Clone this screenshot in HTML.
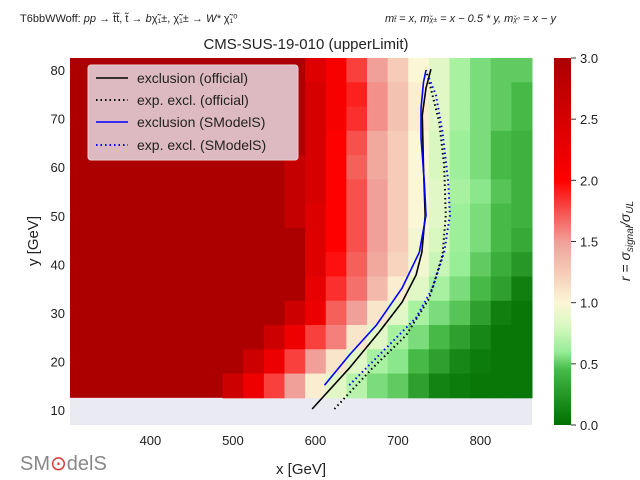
<!DOCTYPE html>
<html><head><meta charset="utf-8"><style>
body{margin:0;background:#fff;}
svg{display:block;font-family:"Liberation Sans","DejaVu Sans",sans-serif;}
</style></head><body>
<svg id="chart" width="640" height="480" viewBox="0 0 640 480">
<text x="20" y="22" font-size="11" fill="#222">T6bbWWoff: <tspan font-style="italic">pp</tspan> → t̃t̃, t̃ → <tspan font-style="italic">b</tspan>χ̃₁±, χ̃₁± → <tspan font-style="italic">W*</tspan> χ̃₁⁰</text>
<text x="385" y="22" font-size="11" fill="#222" font-style="italic">m<tspan font-size="7">t̃</tspan> = x, m<tspan font-size="7">χ̃±</tspan> = x − 0.5 * y, m<tspan font-size="7">χ̃⁰</tspan> = x − y</text>
<text x="306" y="49" font-size="15" fill="#222" text-anchor="middle">CMS-SUS-19-010 (upperLimit)</text>
<rect x="70" y="58" width="462" height="367" fill="#eaeaf2"/>
<g id="cells"></g>
<g id="lines"></g>
<g id="axes"></g>
<g>
<rect x="88" y="65" width="210" height="95" rx="3" fill="#ddb9c1" stroke="#e8d0d5"/>
<line x1="96" y1="78" x2="128" y2="78" stroke="#000" stroke-width="1.6"/>
<text x="137" y="83" font-size="14" fill="#222">exclusion (official)</text>
<line x1="96" y1="100" x2="128" y2="100" stroke="#000" stroke-width="2" stroke-dasharray="1.5,3"/>
<text x="137" y="105" font-size="14" fill="#222">exp. excl. (official)</text>
<line x1="96" y1="122" x2="128" y2="122" stroke="#0000ff" stroke-width="1.6"/>
<text x="137" y="127" font-size="14" fill="#222">exclusion (SModelS)</text>
<line x1="96" y1="145" x2="128" y2="145" stroke="#0000ff" stroke-width="2" stroke-dasharray="1.5,3"/>
<text x="137" y="150" font-size="14" fill="#222">exp. excl. (SModelS)</text>
</g>
<defs><linearGradient id="cbg" x1="0" y1="1" x2="0" y2="0">
<stop offset="0" stop-color="#006f00"/><stop offset="0.15" stop-color="#46b946"/><stop offset="0.2" stop-color="#96ee96"/><stop offset="0.27" stop-color="#d8f8c0"/><stop offset="0.333" stop-color="#fbf6d6"/><stop offset="0.5" stop-color="#f0a098"/><stop offset="0.667" stop-color="#ff0000"/><stop offset="1" stop-color="#ac0000"/>
</linearGradient></defs>
<rect x="554" y="58" width="17" height="367" fill="url(#cbg)"/>
<g id="cbticks"></g>
<text transform="translate(630,241) rotate(-90)" font-size="14" fill="#222" text-anchor="middle" font-style="italic">r = σ<tspan font-size="10" dy="3">signal</tspan><tspan dy="-3">/σ</tspan><tspan font-size="10" dy="3">UL</tspan></text>
<text x="301" y="474" font-size="15" fill="#222" text-anchor="middle">x [GeV]</text>
<text transform="translate(38,241) rotate(-90)" font-size="15" fill="#222" text-anchor="middle">y [GeV]</text>
<g>
<text x="20" y="470" font-size="20" fill="#888">SM<tspan fill="#d33">⊙</tspan>delS</text>
</g>
</svg>
<script>
const xCenters=[500,525,550,575,600,625,650,675,700,725,750,775,800,825,850];
const yCenters=[80,75,70,65,60,55,50,45,40,35,30,25,20,15];
const rValues=[
[3,3,3,3,2.4,2.1,1.8,1.5,1.25,1.0,0.85,0.65,0.55,0.5,0.5],
[3,3,3,3,2.5,2.1,1.9,1.55,1.3,1.05,0.85,0.65,0.55,0.5,0.45],
[3,3,3,3,2.5,2.1,1.85,1.55,1.3,1.05,0.85,0.65,0.55,0.5,0.45],
[3,3,3,3,2.5,2.0,1.75,1.45,1.25,1.0,0.8,0.62,0.55,0.45,0.4],
[3,3,3,2.7,2.5,2.0,1.7,1.45,1.25,1.0,0.8,0.62,0.55,0.45,0.4],
[3,3,3,2.7,2.5,2.0,1.75,1.5,1.25,1.0,0.85,0.65,0.58,0.48,0.4],
[3,3,3,2.7,2.4,2.0,1.75,1.5,1.25,1.0,0.85,0.62,0.55,0.45,0.4],
[3,3,3,3,2.4,2.0,1.75,1.5,1.25,0.95,0.8,0.62,0.55,0.45,0.35],
[3,3,3,3,2.4,1.95,1.7,1.45,1.2,0.95,0.75,0.6,0.5,0.38,0.25],
[3,3,3,3,2.3,1.85,1.65,1.35,1.05,0.85,0.65,0.55,0.45,0.3,0.1],
[3,3,3,2.6,2.2,1.7,1.5,1.1,0.85,0.65,0.55,0.48,0.3,0.1,0.05],
[3,3,2.6,2.2,1.8,1.6,1.1,0.85,0.65,0.55,0.45,0.3,0.15,0.05,0.05],
[3,2.6,2.2,1.8,1.5,1.1,0.85,0.65,0.58,0.45,0.3,0.15,0.08,0.05,0.05],
[2.6,2.2,1.8,1.5,1.05,0.85,0.7,0.55,0.5,0.3,0.12,0.08,0.05,0.05,0.05]];
const officialX=[596,641,677,705,722,729,733,731,729.5,734,740];
const officialY=[10.2,18.6,26,32.2,37.8,42.5,50,59.8,70.7,76.3,80.2];
const officialExpX=[623,669,710,738,754,758,756,750,738,734];
const officialExpY=[10.2,18.6,25.4,33,41.9,50.1,60.4,69.3,77.5,80];
const smodelsX=[611,641,674,705,726,734,732,728,728,731,734];
const smodelsY=[15.1,21.3,27.5,35.1,42.5,50.1,56.9,66,72.2,77.5,80];
const smodelsExpX=[641,686,722,742,756,763,761,754,746,736];
const smodelsExpY=[15.1,22.8,29,35.1,42.5,50.1,56.9,67.2,74.9,79];
const xTicks=[400,500,600,700,800];
const yTicks=[10,20,30,40,50,60,70,80];
const cTicks=[0,0.5,1,1.5,2,2.5,3];
const cTickLabels=["0.0","0.5","1.0","1.5","2.0","2.5","3.0"];

const X0=302.5,X1=862.5,Y0=6.9,Y1=82.5,PL=70,PR=532,PT=58,PB=425;
const sx=v=>PL+(v-X0)/(X1-X0)*(PR-PL);
const sy=v=>PB-(v-Y0)/(Y1-Y0)*(PB-PT);
const cy=v=>425-v/3*367;
const stops=[[0,[0,111,0]],[0.45,[70,185,70]],[0.6,[150,238,150]],[0.8,[216,248,192]],[1,[251,246,214]],[1.5,[240,160,152]],[2,[255,0,0]],[3,[172,0,0]]];
function col(r){r=Math.max(0,Math.min(3,r));for(let i=1;i<stops.length;i++){if(r<=stops[i][0]){const a=stops[i-1],b=stops[i],t=(r-a[0])/(b[0]-a[0]);return 'rgb('+a[1].map((c,k)=>Math.round(c+(b[1][k]-c)*t)).join(',')+')';}}return 'rgb(172,0,0)';}
const NS='http://www.w3.org/2000/svg';
function mk(tag,attrs,parent){const e=document.createElementNS(NS,tag);for(const k in attrs)e.setAttribute(k,attrs[k]);parent.appendChild(e);return e;}
const cells=document.getElementById('cells');
const lf=mk('rect',{x:PL,y:sy(82.5),width:sx(487.5)-PL+2,height:sy(12.5)-sy(82.5),fill:col(3)},cells);


yCenters.forEach((yv,i)=>xCenters.forEach((xv,j)=>{
 const x0=sx(xv-12.5),x1=sx(xv+12.5),y0=sy(yv+2.5),y1=sy(yv-2.5);
 const c=mk('rect',{x:x0,y:y0,width:x1-x0+0.5,height:y1-y0+0.5,fill:col(rValues[i][j])},cells);
 
 
}));
const lines=document.getElementById('lines');
function line(xs,ys,color,dash,name){const p=mk('polyline',{points:xs.map((x,i)=>sx(x)+','+sy(ys[i])).join(' '),fill:'none',stroke:color,'stroke-width':dash?2:1.6},lines);if(dash)p.setAttribute('stroke-dasharray','1.5,3');
 
 }
line(officialX,officialY,'#000',false,'exclusion-official-line');
line(officialExpX,officialExpY,'#000',true,'exp-exclusion-official-line');
line(smodelsX,smodelsY,'#0000ff',false,'exclusion-smodels-line');
line(smodelsExpX,smodelsExpY,'#0000ff',true,'exp-exclusion-smodels-line');
const axes=document.getElementById('axes');
xTicks.forEach(v=>{const t=mk('text',{x:sx(v),y:PB+20,'font-size':13,fill:'#222','text-anchor':'middle'},axes);t.textContent=v;
 
 });
yTicks.forEach(v=>{const t=mk('text',{x:PL-5,y:sy(v)+5,'font-size':13,fill:'#222','text-anchor':'end'},axes);t.textContent=v;
 
 });
const cb=document.getElementById('cbticks');
cTicks.forEach((v,i)=>{mk('line',{x1:571,x2:576,y1:cy(v),y2:cy(v),stroke:'#333'},cb);
 const t=mk('text',{x:580,y:cy(v)+5,'font-size':13,fill:'#222'},cb);t.textContent=cTickLabels[i];
 
 });
</script>
</body></html>
